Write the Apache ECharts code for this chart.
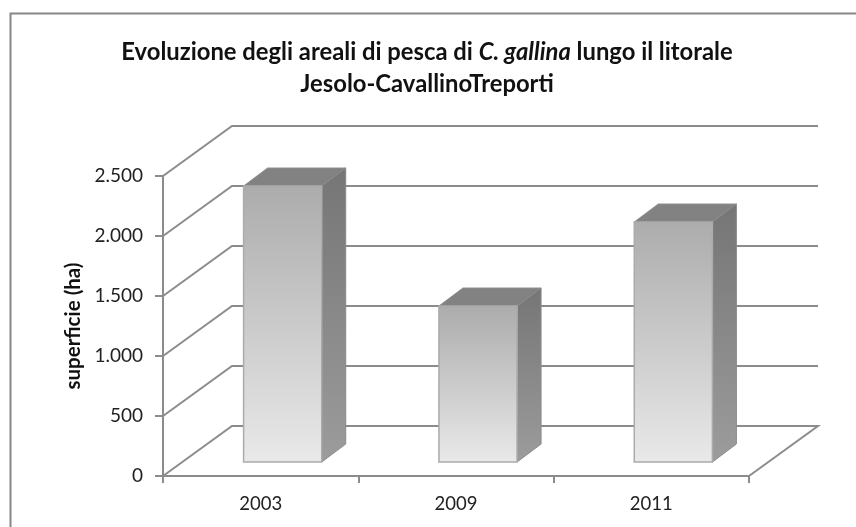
<!DOCTYPE html>
<html><head><meta charset="utf-8">
<style>html,body{margin:0;padding:0;background:#fff}#c{width:856px;height:527px}</style>
<script src="https://cdn.jsdelivr.net/npm/echarts@6/dist/echarts.min.js"></script>
</head><body><div id="c"></div>
<script>
const categories = ['2003', '2009', '2011'];
const surfaceHa = [2300, 1300, 2000];
const yTicks = [0, 500, 1000, 1500, 2000, 2500];
const titleLine1a = 'Evoluzione degli areali di pesca di ';
const titleItalic = 'C. gallina';
const titleLine1b = ' lungo il litorale';
const titleLine2 = 'Jesolo-CavallinoTreporti';
const yName = 'superficie (ha)';

const FONT = 'Lato, "Open Sans", sans-serif';
const GRID = '#8c8c8c';
const WALL = {dx: 69, dy: -50};
const BAR = {shiftX: 22, shiftY: -14, widthRatio: 0.4, dx: 24, dy: -18};

function renderWall(params, api) {
  const v = api.value(1);
  const half = api.size([1, 0])[0] / 2;
  const a = api.coord([0, v]);
  const x0 = a[0] - half, y0 = a[1];
  const xEnd = api.coord([categories.length - 1, v])[0] + half;
  const pts = [[x0, y0], [x0 + WALL.dx, y0 + WALL.dy], [xEnd + WALL.dx, y0 + WALL.dy]];
  if (v === 0) pts.push([xEnd, y0]);
  return {type: 'polyline', shape: {points: pts},
    style: {stroke: GRID, lineWidth: 2, fill: null}, silent: true};
}

function renderBar(params, api) {
  const base = api.coord([api.value(0), 0]);
  const top = api.coord([api.value(0), api.value(1)]);
  const w = api.size([1, 0])[0] * BAR.widthRatio;
  const l = base[0] + BAR.shiftX - w / 2, r = l + w;
  const b = base[1] + BAR.shiftY, t = top[1] + BAR.shiftY;
  const d = BAR.dx, e = BAR.dy;
  const grad = (c0, c1) => ({type: 'linear', x: 0, y: 0, x2: 0, y2: 1,
    colorStops: [{offset: 0, color: c0}, {offset: 1, color: c1}]});
  return {type: 'group', children: [
    {type: 'polygon', shape: {points: [[l, t], [l + d, t + e], [r + d, t + e], [r, t]]},
      style: {fill: '#828282', stroke: '#8e8e8e', lineWidth: 1, lineJoin: 'round'}},
    {type: 'polygon', shape: {points: [[r, t], [r + d, t + e], [r + d, b + e], [r, b]]},
      style: {fill: grad('#757575', '#9c9c9c'), stroke: '#8a8a8a', lineWidth: 1, lineJoin: 'round'}},
    {type: 'polygon', shape: {points: [[l, t], [r, t], [r, b], [l, b]]},
      style: {fill: grad('#acacac', '#e9e9e9'), stroke: '#ababab', lineWidth: 1.5}}
  ]};
}

const chart = echarts.init(document.getElementById('c'), null, {renderer: 'canvas'});
chart.setOption({
  backgroundColor: '#fff',
  animation: false,
  graphic: [{type: 'rect', z: 0, shape: {x: 10.5, y: 13.5, width: 900, height: 560},
    style: {fill: '#fff', stroke: '#868686', lineWidth: 2}}],
  title: {
    left: 422, top: 31, textAlign: 'center',
    text: '{b|' + titleLine1a + '}{i|' + titleItalic + '}{b|' + titleLine1b + '}\n{b|' + titleLine2 + '}',
    textStyle: {
      lineHeight: 32,
      rich: {
        b: {fontFamily: FONT, fontSize: 23.8, fontWeight: 'bold', color: '#111', lineHeight: 32},
        i: {fontFamily: FONT, fontSize: 23.8, fontWeight: 'bold', fontStyle: 'italic', color: '#111', lineHeight: 32}
      }
    }
  },
  grid: {left: 163, top: 176, width: 586, height: 300, containLabel: false},
  xAxis: {
    type: 'category', data: categories,
    axisLine: {lineStyle: {color: GRID, width: 2}},
    axisTick: {show: true, alignWithLabel: false, length: 7, lineStyle: {color: GRID, width: 2}},
    axisLabel: {color: '#222', fontFamily: FONT, fontSize: 18.5, margin: 19},
    splitLine: {show: false}
  },
  yAxis: {
    type: 'value', min: 0, max: 2500, interval: 500,
    name: yName, nameLocation: 'middle', nameGap: 78, nameRotate: 90,
    nameTextStyle: {color: '#111', fontFamily: FONT, fontSize: 20.5, fontWeight: 'bold'},
    axisLine: {show: true, lineStyle: {color: GRID, width: 2}},
    axisTick: {show: true, length: 8, lineStyle: {color: GRID, width: 2}},
    axisLabel: {color: '#222', fontFamily: FONT, fontSize: 19, margin: 20,
      formatter: v => v >= 1000 ? Math.floor(v / 1000) + '.' + String(v % 1000).padStart(3, '0') : String(v)},
    splitLine: {show: false}
  },
  tooltip: {show: false},
  series: [
    {type: 'custom', name: 'griglia', renderItem: renderWall, z: 1, silent: true,
      clip: false, data: yTicks.map(v => [0, v])},
    {type: 'custom', name: 'superficie', renderItem: renderBar, z: 3, clip: false,
      data: surfaceHa.map((v, i) => [i, v])}
  ]
});
</script></body></html>
